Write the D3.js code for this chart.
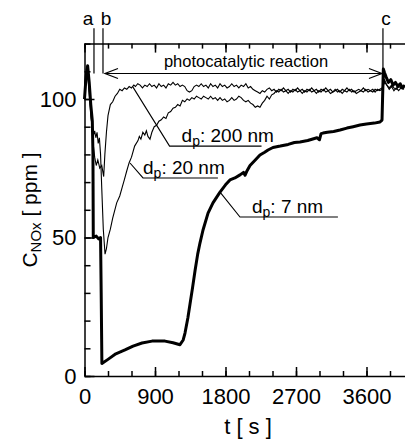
<!DOCTYPE html>
<html lang="en">
<head>
    <meta charset="UTF-8">
    <title>NOx concentration</title>
    <script src="https://cdn.jsdelivr.net/npm/d3@7"></script>
</head>
<body>
    <div id="chart-space"></div>

    <script>

        // time [s] and concentration [ppm]
        var t7 = [0, 20, 40, 60, 80, 100, 108, 112, 150, 180, 205, 213, 222, 300, 400, 517, 620, 734, 862, 1028, 1130, 1219, 1260, 1283, 1320, 1347, 1380, 1411, 1445, 1474, 1513, 1577, 1640, 1730, 1800, 1857, 1920, 1985, 2030, 2050, 2070, 2113, 2180, 2240, 2300, 2343, 2406, 2500, 2600, 2680, 2751, 2850, 2968, 3000, 3020, 3045, 3100, 3180, 3262, 3350, 3430, 3517, 3600, 3700, 3772, 3798, 3805, 3815, 3830, 3850, 3880, 3910, 3940, 3970, 4000, 4030, 4060, 4090];
        var c7 = [100, 108, 112, 106, 98, 92, 80, 50, 50.5, 49.5, 50, 30, 4.5, 6, 8, 9.4, 10.8, 11.9, 12.6, 12.6, 12, 11.3, 13, 15.5, 21, 26, 32, 38, 44, 48, 52.7, 58.8, 62.5, 66.4, 69, 70.8, 71.5, 72.6, 73.5, 72.5, 73.8, 76, 78, 79.8, 80.8, 81.6, 82.5, 83, 83.6, 84.3, 84.5, 85, 86, 85.3, 87.5, 87.7, 88, 88.3, 88.8, 89.5, 90, 90.6, 91, 91.3, 91.7, 92.4, 100, 110.8, 109.5, 108, 106, 107, 105, 106, 104.5, 105.5, 104, 105];

        var t20 = [0, 25, 45, 65, 85, 100, 115, 130, 145, 160, 175, 190, 205, 220, 240, 262, 280, 300, 330, 360, 411, 450, 480, 510, 539, 570, 600, 640, 683, 700, 720, 745, 770, 790, 810, 836, 860, 890, 920, 950, 980, 1010, 1040, 1070, 1100, 1130, 1160, 1190, 1220, 1250, 1280, 1310, 1340, 1370, 1400, 1430, 1460, 1490, 1520, 1550, 1580, 1610, 1640, 1670, 1700, 1730, 1760, 1790, 1820, 1850, 1880, 1910, 1940, 1970, 2000, 2030, 2060, 2090, 2120, 2150, 2180, 2210, 2240, 2270, 2300, 2330, 2360, 2390, 2420, 2450, 2480, 2510, 2540, 2570, 2600, 2630, 2660, 2690, 2720, 2750, 2780, 2810, 2840, 2870, 2900, 2930, 2960, 2990, 3020, 3050, 3080, 3110, 3140, 3170, 3200, 3230, 3260, 3290, 3320, 3350, 3380, 3410, 3440, 3470, 3500, 3530, 3560, 3590, 3620, 3650, 3680, 3710, 3740, 3770, 3800, 3830, 3860, 3890, 3920, 3950, 3980, 4010, 4040, 4080];
        var c20 = [104, 110, 108, 100, 93, 89, 87, 88.5, 86, 88, 84, 86, 80, 68, 53, 44, 46, 50, 53, 57, 62.5, 65, 68, 71, 74, 77, 79, 83, 85, 86.5, 85.5, 88, 87, 88.5, 86.5, 85.5, 88, 90, 90.5, 92, 92.5, 93.5, 93, 95, 95.5, 96.7, 97, 98, 97.5, 99.5, 99, 100, 99.5, 100.5, 100, 101, 100.5, 100, 101, 100.5, 100, 101, 100, 100.5, 99.5, 100.5, 99.5, 100, 99, 99.5, 100.5, 99.5, 100, 101, 100.5, 99.5, 99, 99.5, 98.5, 98, 97, 97.5, 97, 98.5, 99.5, 101, 100, 101.5, 102, 103, 102.5, 103.5, 102.5, 103, 102, 103, 102.5, 103.5, 102.5, 103, 102, 103, 102.5, 103.5, 102.5, 103, 102, 103, 102.5, 103.5, 102.5, 103, 102, 102.5, 103.5, 102.5, 103, 102, 103, 102.5, 103.5, 102.5, 103, 102, 102.5, 103, 102.5, 103.5, 102.5, 103, 102.5, 103.5, 103, 103.5, 104, 107, 105, 103.5, 104.5, 103, 104, 103, 104, 103.5];

        var t200 = [0, 25, 50, 70, 90, 110, 130, 150, 170, 195, 220, 245, 260, 280, 300, 330, 360, 390, 420, 450, 480, 510, 540, 570, 600, 630, 650, 680, 710, 740, 770, 800, 830, 860, 890, 920, 950, 980, 1010, 1040, 1070, 1100, 1130, 1160, 1190, 1220, 1250, 1280, 1310, 1340, 1370, 1400, 1430, 1460, 1490, 1520, 1550, 1580, 1610, 1640, 1670, 1700, 1730, 1760, 1790, 1820, 1850, 1880, 1910, 1940, 1970, 2000, 2030, 2060, 2090, 2120, 2150, 2180, 2210, 2240, 2270, 2300, 2330, 2360, 2390, 2420, 2450, 2480, 2510, 2540, 2570, 2600, 2630, 2660, 2690, 2720, 2750, 2780, 2810, 2840, 2870, 2900, 2930, 2960, 2990, 3020, 3050, 3080, 3110, 3140, 3170, 3200, 3230, 3260, 3290, 3320, 3350, 3380, 3410, 3440, 3470, 3500, 3530, 3560, 3590, 3620, 3650, 3680, 3710, 3740, 3770, 3800, 3830, 3860, 3890, 3920, 3950, 3980, 4010, 4040, 4080];
        var c200 = [104, 111, 108, 100, 92, 84, 79, 76, 78, 75, 76, 72, 80, 88, 94, 98, 99, 101, 102, 103.5, 103, 104, 103.5, 104.5, 104, 105, 104.5, 105.5, 105, 104, 105, 104.5, 105.5, 104.5, 105, 104, 105.5, 104.5, 105, 104, 105.5, 105, 106, 105, 105.5, 104.5, 105, 104.5, 103, 102.5, 103, 104.5, 105, 104.5, 105.5, 104.5, 105, 104, 105.5, 104.5, 105, 104, 105.5, 104.5, 105, 104, 104.5, 105.5, 104.5, 105, 104, 105, 104.5, 105.5, 104, 104.5, 103.5, 103, 102.5, 102, 103, 102.5, 103.5, 104, 103, 103.5, 102.5, 103.5, 103, 104, 103, 103.5, 102.5, 103.5, 103, 104, 103, 103.5, 102.5, 103.5, 103, 104, 103, 103.5, 102.5, 103.5, 103, 104, 103, 103.5, 102.5, 103, 103.5, 102.5, 103.5, 103, 104, 103, 103.5, 102.5, 103, 103.5, 103, 104, 103, 103.5, 103, 103.5, 102.5, 103.5, 103, 103.5, 106, 105, 104, 105, 104, 103.5, 104.5, 104, 105];

        var xTicks = [0, 900, 1800, 2700, 3600];
        var yTicks = [0, 50, 100];

        // events on top of the plot
        var markerNames = ["a", "b", "c"];
        var markerTimes = [121, 236, 3810];

        var width = 405;
        var height = 440;
        var left = 84.5, bottom = 376;

        var svg = d3.select("#chart-space")
            .append("svg")
            .attr("width", width)
            .attr("height", height)
            .style("display", "block")
            .style("font-family", "'Liberation Sans', Arial, sans-serif");

        var x = d3.scaleLinear().domain([0, 4200]).range([left, left + 4200 * 70.5 / 900]);
        var y = d3.scaleLinear().domain([0, 120]).range([bottom, bottom - 120 * 2.77]);

        function zip(ts, cs) {
            return ts.map(function(t, i) { return [t, cs[i]]; });
        }

        var line = d3.line()
            .x(function(d) { return x(d[0]); })
            .y(function(d) { return y(d[1]); });

        // axes, ticks pointing inwards
        var minorX = d3.range(0, 4201, 300);
        var minorY = d3.range(0, 121, 10);

        svg.append("g")
            .attr("transform", "translate(0," + bottom + ")")
            .call(d3.axisBottom(x).tickValues(minorX).tickSize(-5).tickFormat(""))
            .call(g => g.select(".domain").remove());
        svg.append("g")
            .attr("transform", "translate(0," + bottom + ")")
            .call(d3.axisBottom(x).tickValues(xTicks).tickSize(-9).tickSizeOuter(0).tickPadding(12).tickFormat(d3.format("d")))
            .call(g => g.selectAll("text").style("font-size", "22px"));

        svg.append("g")
            .attr("transform", "translate(0," + y(120) + ")")
            .call(d3.axisTop(x).tickValues(minorX).tickSize(-5).tickFormat(""))
            .call(g => g.select(".domain").remove());
        svg.append("g")
            .attr("transform", "translate(0," + y(120) + ")")
            .call(d3.axisTop(x).tickValues(xTicks).tickSize(-9).tickSizeOuter(0).tickFormat(""));

        svg.append("g")
            .attr("transform", "translate(" + left + ",0)")
            .call(d3.axisLeft(y).tickValues(minorY).tickSize(-6).tickFormat(""))
            .call(g => g.select(".domain").remove());
        svg.append("g")
            .attr("transform", "translate(" + left + ",0)")
            .call(d3.axisLeft(y).tickValues(yTicks).tickSize(-10).tickSizeOuter(0).tickPadding(8))
            .call(g => g.selectAll("text").style("font-size", "22px"));

        svg.selectAll(".domain, .tick line").attr("stroke", "#000").attr("stroke-width", 1.5);

        // curves
        svg.append("path").datum(zip(t200, c200))
            .attr("d", line).attr("fill", "none").attr("stroke", "#000").attr("stroke-width", 1.1);
        svg.append("path").datum(zip(t20, c20))
            .attr("d", line).attr("fill", "none").attr("stroke", "#000").attr("stroke-width", 1.1);
        svg.append("path").datum(zip(t7, c7))
            .attr("d", line).attr("fill", "none").attr("stroke", "#000").attr("stroke-width", 3)
            .attr("stroke-linejoin", "round");

        // event markers a, b, c
        var arrowV = 109.2;
        markerTimes.forEach(function(t, i) {
            svg.append("line")
                .attr("x1", x(t)).attr("x2", x(t))
                .attr("y1", y(125.5)).attr("y2", y(arrowV))
                .attr("stroke", "#000").attr("stroke-width", 1.2);
            svg.append("text")
                .attr("x", x(t) + (i == 0 ? -6 : 3))
                .attr("y", y(125.5) - 3)
                .attr("text-anchor", "middle")
                .style("font-size", "19px")
                .text(markerNames[i]);
        });

        var xa = x(markerTimes[1]) + 2, xc = x(markerTimes[2]) - 1, ya = y(arrowV);
        svg.append("path")
            .attr("d", "M" + xa + "," + ya + "H" + xc
                + "M" + (xa + 13) + "," + (ya - 5) + "L" + xa + "," + ya + "L" + (xa + 13) + "," + (ya + 5)
                + "M" + (xc - 13) + "," + (ya - 5) + "L" + xc + "," + ya + "L" + (xc - 13) + "," + (ya + 5))
            .attr("fill", "none").attr("stroke", "#000").attr("stroke-width", 1.2);
        svg.append("text")
            .attr("x", 246)
            .attr("y", ya - 7)
            .attr("text-anchor", "middle")
            .style("font-size", "16.5px")
            .text("photocatalytic reaction");

        // curve labels: point on curve, elbow, end of underline (data units), text offset
        var labels = [
            {size: "200 nm", at: [619, 104.3], elbow: [1086, 83], end: [2260, 83], dx: 12},
            {size: "20 nm", at: [581, 76.9], elbow: [747, 71.5], end: [1703, 71.5], dx: 0},
            {size: "7 nm", at: [1730, 66.4], elbow: [1985, 57.4], end: [3235, 57.4], dx: 12}
        ];
        labels.forEach(function(d) {
            svg.append("path")
                .attr("d", "M" + x(d.at[0]) + "," + y(d.at[1]) + "L" + x(d.elbow[0]) + "," + y(d.elbow[1]) + "H" + x(d.end[0]))
                .attr("fill", "none").attr("stroke", "#000").attr("stroke-width", 1.1);
            var txt = svg.append("text")
                .attr("x", x(d.elbow[0]) + d.dx)
                .attr("y", y(d.elbow[1]) - 4)
                .style("font-size", "19px");
            txt.append("tspan").text("d");
            txt.append("tspan").attr("dy", 4).style("font-size", "14px").text("p");
            txt.append("tspan").attr("dy", -4).text(": " + d.size);
        });

        // axis titles
        svg.append("text")
            .attr("x", 248)
            .attr("y", 434)
            .attr("text-anchor", "middle")
            .style("font-size", "22px")
            .text("t [ s ]");

        var yt = svg.append("text")
            .attr("transform", "translate(37,210) rotate(-90)")
            .attr("text-anchor", "middle")
            .style("font-size", "21px");
        yt.append("tspan").text("C");
        yt.append("tspan").attr("dy", 4).style("font-size", "15px").text("NOx");
        yt.append("tspan").attr("dy", -4).text(" [ ppm ]");

    </script>
    <style>
        body { margin: 0; }
    </style>
</body>
</html>
